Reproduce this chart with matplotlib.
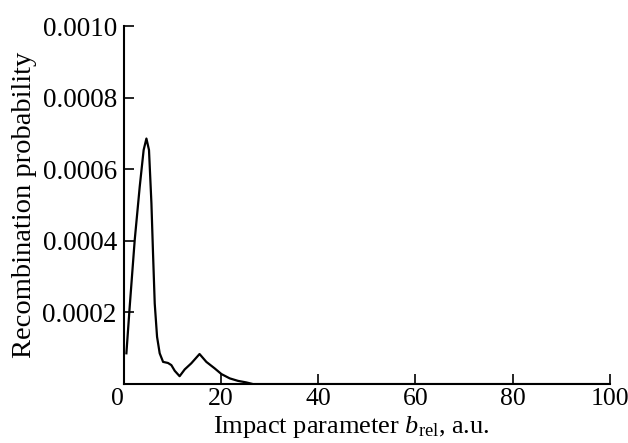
import matplotlib
matplotlib.use("Agg")
import matplotlib.pyplot as plt

# impact parameter (a.u.) and recombination probability
b_rel = [0.55, 1.23, 2.26, 3.29, 4.1, 4.67, 5.2, 5.7, 6.03, 6.38, 6.86, 7.4,
         8.1, 9.1, 9.8, 10.5, 11.5, 12.55, 13.9, 15.6, 17.0, 18.7, 20.1,
         21.8, 23.5, 25.2, 26.6, 40.0, 60.0, 80.0, 100.0]
prob = [8.6e-5, 2.16e-4, 4.02e-4, 5.51e-4, 6.54e-4, 6.86e-4, 6.54e-4, 5.05e-4,
        3.65e-4, 2.25e-4, 1.32e-4, 8.6e-5, 6.2e-5, 5.9e-5, 5.3e-5, 3.7e-5,
        2.2e-5, 4.1e-5, 5.8e-5, 8.4e-5, 6.2e-5, 4.4e-5, 2.8e-5, 1.6e-5,
        9e-6, 4.7e-6, 0.0, 0.0, 0.0, 0.0, 0.0]

xticks = [0, 20, 40, 60, 80, 100]
yticks = [0.0002, 0.0004, 0.0006, 0.0008, 0.0010]

plt.rcParams['font.family'] = ['Liberation Serif', 'DejaVu Serif']
plt.rcParams['mathtext.fontset'] = 'custom'
plt.rcParams['mathtext.rm'] = 'Liberation Serif'
plt.rcParams['mathtext.it'] = 'Liberation Serif:italic'

fig = plt.figure(figsize=(6.28, 4.43), dpi=100)
ax = fig.add_axes([0.197, 0.133, 0.774, 0.808])

ax.plot(b_rel, prob, color='black', lw=1.6)

ax.set_xlim(0, 100)
ax.set_ylim(0, 0.001)
ax.set_xticks(xticks)
ax.set_xticklabels([str(t) for t in xticks])
ax.set_yticks([0] + yticks)
ax.set_yticklabels([''] + ['%.4f' % t for t in yticks])
ax.get_xticklabels()[0].set_horizontalalignment('right')

for s in ['top', 'right']:
    ax.spines[s].set_visible(False)
for s in ['left', 'bottom']:
    ax.spines[s].set_linewidth(1.5)

ax.tick_params(direction='in', length=7, width=1.2)
ax.tick_params(axis='x', pad=3, labelsize=18.5)
ax.tick_params(axis='y', pad=5, labelsize=19.5)

ax.set_xlabel(r'Impact parameter $b_{\mathrm{rel}}$, a.u.', fontsize=19, labelpad=0)
ax.xaxis.set_label_coords(0.468, -0.083)
ax.set_ylabel('Recombination probability', fontsize=20.5, labelpad=4)

fig.savefig('out.png', dpi=100)
